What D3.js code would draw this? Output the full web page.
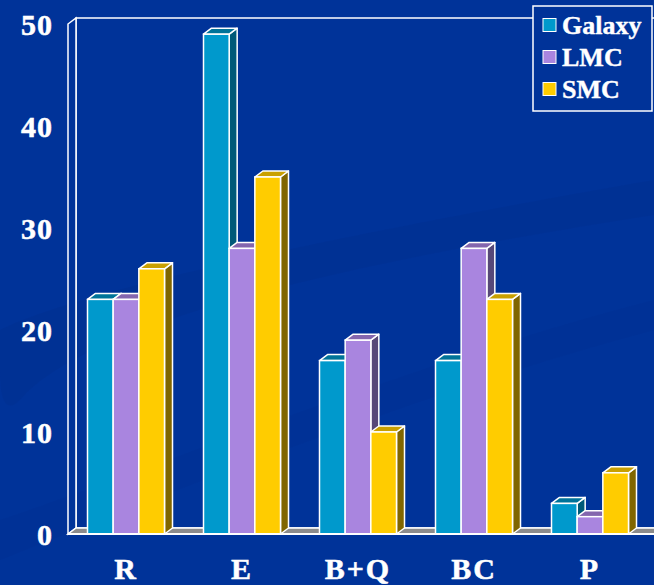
<!DOCTYPE html>
<html><head><meta charset="utf-8">
<script src="https://cdn.jsdelivr.net/npm/d3@7"></script>
<style>html,body{margin:0;padding:0;background:#003399;overflow:hidden}</style>
</head><body>
<svg id="c" width="654" height="585"></svg>
<script>
const categories = ["R", "E", "B+Q", "BC", "P"];
const seriesNames = ["Galaxy", "LMC", "SMC"];
const galaxy = [23, 49, 17, 17, 3];
const lmc = [23, 28, 19, 28, 1.7];
const smc = [26, 35, 10, 23, 6];
const yTicks = [0, 10, 20, 30, 40, 50];

const seriesValues = [galaxy, lmc, smc];
const colors = [
  {front: "#0099CC", top: "#007399", side: "#005a78"},
  {front: "#A985DF", top: "#8466AE", side: "#574878"},
  {front: "#FFCC00", top: "#C9A000", side: "#806600"}
];

const W = 654, H = 585;
const svg = d3.select("#c");
const dx = 8, dy = -6;
const x0 = 68, xEnd = 648;

// background
svg.append("rect").attr("width", W).attr("height", H).attr("fill", "#003399");
svg.append("path").attr("d", "M0,330 C60,300 250,250 654,180 L654,215 C300,270 80,330 20,400 C0,420 0,380 0,370 Z")
  .attr("fill", "#002e8a").attr("opacity", 0.3);
svg.append("path").attr("d", "M0,520 C150,470 420,360 654,300 L654,330 C430,390 200,480 0,560 Z")
  .attr("fill", "#002e8a").attr("opacity", 0.2);

const y = d3.scaleLinear().domain([0, 50]).range([534, 24]);
const x = d3.scaleBand().domain(categories).range([x0, xEnd]).paddingInner(0).paddingOuter(0);
const groupW = 77;
const xs = d3.scaleBand().domain(seriesNames).range([0, groupW]);

const g = svg.append("g");
const right = W + 20;
// back wall
g.append("rect").attr("x", x0 + dx).attr("y", y(50) + dy).attr("width", right - x0).attr("height", y(0) - y(50))
  .attr("fill", "none").attr("stroke", "#fff").attr("stroke-width", 1.5);
// left wall
g.append("path").attr("d", `M${x0},${y(50)} L${x0+dx},${y(50)+dy} L${x0+dx},${y(0)+dy} L${x0},${y(0)} Z`)
  .attr("fill", "#003399").attr("stroke", "#fff").attr("stroke-width", 1.5);
// floor
g.append("path").attr("d", `M${x0},${y(0)} L${x0+dx},${y(0)+dy} L${right},${y(0)+dy} L${right},${y(0)} Z`)
  .attr("fill", "#8c8c8c").attr("stroke", "#fff").attr("stroke-width", 1.5);

// bars
categories.forEach((c, ci) => {
  const gx = x(c) + (x.bandwidth() - groupW) / 2;
  seriesNames.forEach((s, si) => {
    const v = seriesValues[si][ci];
    const bx = gx + xs(s), bw = xs.bandwidth();
    const yt = y(v), yb = y(0);
    const col = colors[si];
    const bg = g.append("g");
    bg.append("path").attr("d", `M${bx+bw},${yt} L${bx+bw+dx},${yt+dy} L${bx+bw+dx},${yb+dy} L${bx+bw},${yb} Z`)
      .attr("fill", col.side).attr("stroke", "#fff").attr("stroke-width", 1.5).attr("stroke-linejoin", "round");
    bg.append("path").attr("d", `M${bx},${yt} L${bx+dx},${yt+dy} L${bx+bw+dx},${yt+dy} L${bx+bw},${yt} Z`)
      .attr("fill", col.top).attr("stroke", "#fff").attr("stroke-width", 1.5).attr("stroke-linejoin", "round");
    bg.append("rect").attr("x", bx).attr("y", yt).attr("width", bw).attr("height", yb - yt)
      .attr("fill", col.front).attr("stroke", "#fff").attr("stroke-width", 1.5);
  });
});

// front baseline
g.append("line").attr("x1", x0).attr("x2", right).attr("y1", y(0)).attr("y2", y(0))
  .attr("stroke", "#fff").attr("stroke-width", 2);

const font = "'Liberation Serif', 'Times New Roman', serif";
// y tick labels
svg.append("g").selectAll("text").data(yTicks).join("text")
  .attr("x", 53).attr("y", d => y(d)).attr("dy", "0.35em").attr("text-anchor", "end")
  .attr("font-family", font).attr("font-weight", "bold").attr("font-size", 30).attr("letter-spacing", 1)
  .attr("fill", "#fff").attr("stroke", "#fff").attr("stroke-width", 0.5)
  .text(d => d);
// category labels
svg.append("g").selectAll("text").data(categories).join("text")
  .attr("x", d => x(d) + x.bandwidth() / 2).attr("y", 568).attr("dy", "0.35em").attr("text-anchor", "middle")
  .attr("font-family", font).attr("font-weight", "bold").attr("font-size", 30).attr("letter-spacing", 2)
  .attr("fill", "#fff").attr("stroke", "#fff").attr("stroke-width", 0.5)
  .text(d => d);

// legend
const lg = svg.append("g");
lg.append("rect").attr("x", 533).attr("y", 6).attr("width", 119).attr("height", 105)
  .attr("fill", "#003399").attr("stroke", "#fff").attr("stroke-width", 1.5);
seriesNames.forEach((s, i) => {
  const cy = 25 + i * 32;
  lg.append("rect").attr("x", 543).attr("y", cy - 6.5).attr("width", 13).attr("height", 13)
    .attr("fill", colors[i].front).attr("stroke", "#fff").attr("stroke-width", 1);
  lg.append("text").attr("x", 562).attr("y", cy).attr("dy", "0.35em")
    .attr("font-family", font).attr("font-weight", "bold").attr("font-size", 26).attr("fill", "#fff")
    .attr("stroke", "#fff").attr("stroke-width", 0.4).text(s);
});
</script>
</body></html>
